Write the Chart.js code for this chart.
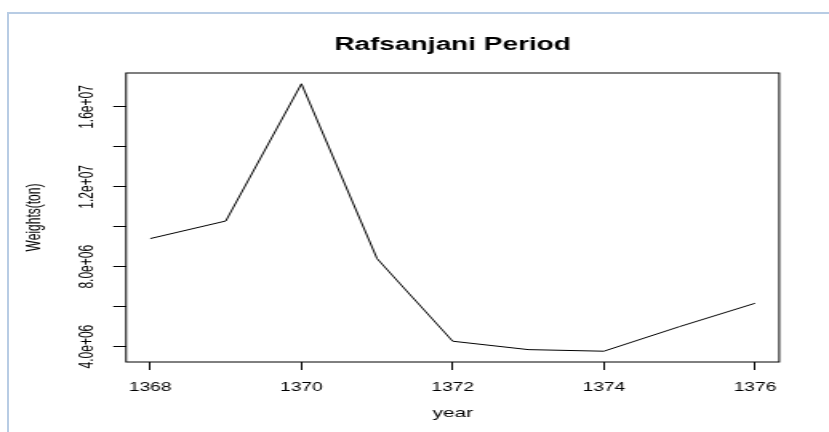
<!DOCTYPE html>
<html>
<head>
<meta charset="utf-8">
<script src="https://cdn.jsdelivr.net/npm/chart.js@4"></script>
<style>
  html, body { margin: 0; padding: 0; background: #fff; overflow: hidden; }
  #frame {
    position: absolute; left: 7px; top: 12px; width: 822px; height: 420px;
    border-top: 2px solid #b8cce4; border-left: 2px solid #b8cce4; box-sizing: border-box;
  }
  #myChart { position: absolute; left: 0; top: 0; }
</style>
</head>
<body>
<div id="frame"></div>
<!-- the R plot in the picture is stretched sideways, so the canvas is too -->
<canvas id="myChart" width="518" height="432" style="width: 829px; height: 432px;"></canvas>
<script>
let years = [1368, 1369, 1370, 1371, 1372, 1373, 1374, 1375, 1376];
let weights = [9410000, 10290000, 17160000, 8410000, 4270000, 3850000, 3770000, 5000000, 6170000];

let yearTicks = [1368, 1370, 1372, 1374, 1376];
let weightTicks = [4000000, 6000000, 8000000, 10000000, 12000000, 14000000, 16000000];
let weightLabels = ["4.0e+06", "", "8.0e+06", "", "1.2e+07", "", "1.6e+07"];

let yearRange = [1367.68, 1376.32];
let weightRange = [3230000, 17700000];

const family = "'Liberation Sans', Arial, sans-serif";

// box round the plot and the upright y labels, like base R
const rBox = {
  id: "rBox",
  afterDraw(chart) {
    const ctx = chart.ctx;
    const a = chart.chartArea;
    const yScale = chart.scales.y;
    ctx.save();
    ctx.strokeStyle = "#000";
    ctx.lineWidth = 1;
    ctx.strokeRect(a.left, a.top, a.right - a.left, a.bottom - a.top);
    ctx.font = "12px " + family;
    ctx.fillStyle = "#000";
    ctx.textAlign = "center";
    ctx.textBaseline = "alphabetic";
    weightTicks.forEach(function (v, i) {
      if (!weightLabels[i]) return;
      ctx.save();
      ctx.translate(a.left - 21, yScale.getPixelForValue(v));
      ctx.rotate(-Math.PI / 2);
      ctx.fillText(weightLabels[i], 0, 0);
      ctx.restore();
    });
    ctx.restore();
  }
};

function circle() {
  var ctx = document.getElementById("myChart");
  var myChart = new Chart(ctx, {
    type: "line",
    data: {
      datasets: [
        {
          label: "Weights",
          data: years.map((y, i) => ({ x: y, y: weights[i] })),
          borderColor: "#000",
          borderWidth: 1,
          pointRadius: 0,
          tension: 0,
          fill: false,
        },
      ],
    },
    plugins: [rBox],
    options: {
      responsive: false,
      animation: false,
      devicePixelRatio: 1,
      layout: { padding: { left: 0, right: 31.1, top: 0, bottom: 0 } },
      plugins: {
        legend: { display: false },
        tooltip: { enabled: false },
        title: {
          display: true,
          text: "Rafsanjani Period",
          fullSize: false,
          color: "#000",
          font: { family: family, size: 17.5, weight: "bold" },
          padding: { top: 34.4, bottom: 17.6 },
        },
      },
      scales: {
        x: {
          type: "linear",
          min: yearRange[0],
          max: yearRange[1],
          bounds: "data",
          afterBuildTicks: (s) => { s.ticks = yearTicks.map((v) => ({ value: v })); },
          afterFit: (s) => { s.height = 70; },
          grid: { drawOnChartArea: false, drawTicks: true, tickLength: 8, color: "#000" },
          border: { display: false },
          ticks: {
            color: "#000",
            font: { family: family, size: 12 },
            padding: 10.6,
            maxRotation: 0,
            autoSkip: false,
            callback: (v) => String(v),
          },
          title: {
            display: true,
            text: "year",
            color: "#000",
            font: { family: family, size: 13 },
            padding: { top: 0, bottom: 10.5 },
          },
        },
        y: {
          type: "linear",
          min: weightRange[0],
          max: weightRange[1],
          bounds: "data",
          afterBuildTicks: (s) => { s.ticks = weightTicks.map((v) => ({ value: v })); },
          afterFit: (s) => { s.width = 78.75; },
          grid: { drawOnChartArea: false, drawTicks: true, tickLength: 8, color: "#000" },
          border: { display: false },
          ticks: { display: false },
          title: {
            display: true,
            text: "Weights(ton)",
            color: "#000",
            font: { family: family, size: 12 },
            padding: { top: 14.7, bottom: 0 },
          },
        },
      },
    },
  });
}

circle();
</script>
</body>
</html>
